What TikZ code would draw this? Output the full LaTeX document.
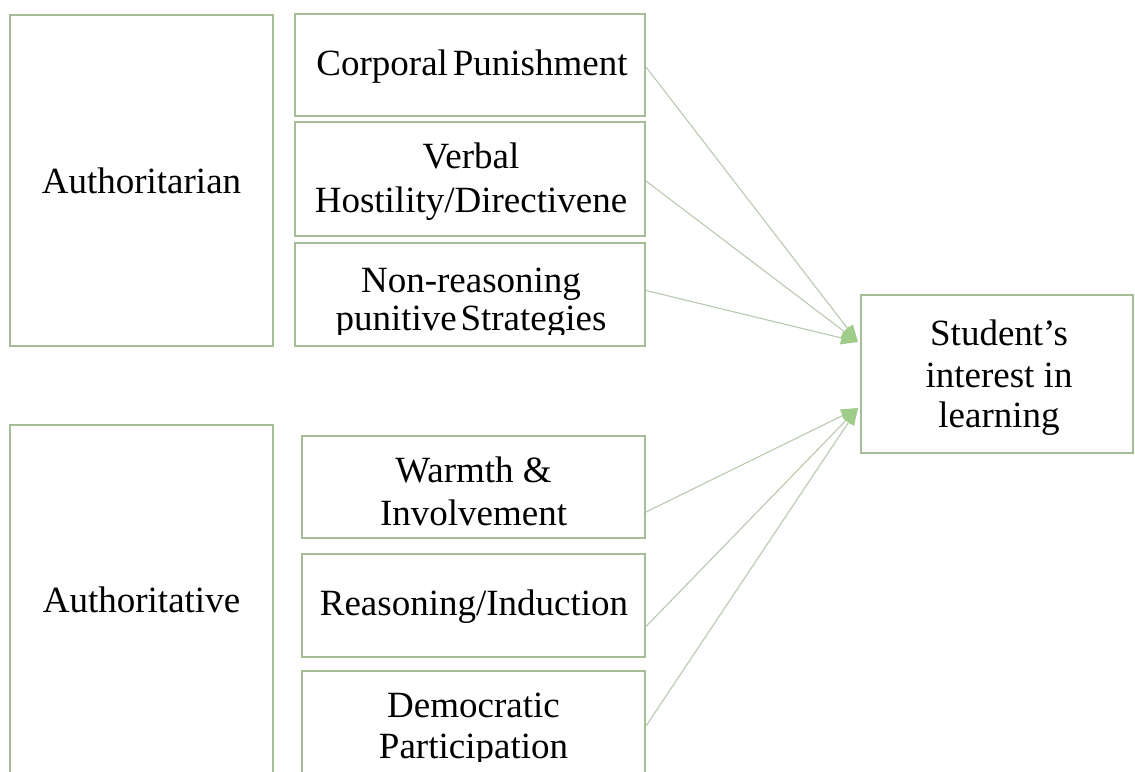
\documentclass[tikz,border=0pt]{standalone}
\usepackage{fontspec}
\setmainfont{Liberation Serif}
\usetikzlibrary{arrows.meta,calc}
\definecolor{boxgreen}{RGB}{165,189,150}
\definecolor{linegreen}{RGB}{186,202,176}
\definecolor{tipgreen}{RGB}{160,204,138}
\tikzset{
  framebox/.style={draw=boxgreen, line width=2pt, fill=white, inner sep=0pt, rectangle},
  lbl/.style={anchor=base, inner sep=0pt, text=black},
  conn/.style={draw=linegreen, line width=1.1pt, -{Triangle[length=17pt,width=13pt,color=tipgreen]}}
}
\begin{document}
\begin{tikzpicture}[x=1pt, y=-1pt, font=\fontsize{37}{42}\selectfont]
\clip (0,0) rectangle (1135,771);
\fill[white] (0,0) rectangle (1135,771);

% boxes
\node[framebox, minimum width=263, minimum height=331] (aria) at (141.5,180.5) {};
\node[framebox, minimum width=350, minimum height=102] (cp) at (470,65) {};
\node[framebox, minimum width=350, minimum height=114] (vh) at (470,179) {};
\node[framebox, minimum width=350, minimum height=103] (nr) at (470,294.5) {};
\node[framebox, minimum width=263, minimum height=365] (aive) at (141.5,607.5) {};
\node[framebox, minimum width=343, minimum height=102] (wi) at (473.5,487) {};
\node[framebox, minimum width=343, minimum height=103] (ri) at (473.5,605.5) {};
\node[framebox, minimum width=343, minimum height=119] (dp) at (473.5,730.5) {};
\node[framebox, minimum width=272, minimum height=158] (stu) at (997,374) {};

% labels
\node[lbl] (t-aria) at (141.5,193) {Authoritarian};
\node[lbl] (t-cp) at (472,75) {Corporal\hspace{-0.12em} Punishment};
\node[lbl] (t-vh1) at (471,168) {Verbal};
\node[lbl] (t-vh2) at (471,212) {Hostility/Directivene};
\begin{scope}
  \clip ($(nr.north west)+(2,2)$) rectangle ($(nr.south east)+(-2,-13)$);
  \node[lbl] (t-nr1) at (471,292) {Non-reasoning};
  \node[lbl] (t-nr2) at (471,330) {punitive\hspace{-0.15em} Strategies};
\end{scope}
\node[lbl] (t-aive) at (141.5,612) {Authoritative};
\node[lbl] (t-wi1) at (473.5,482) {Warmth \&};
\node[lbl] (t-wi2) at (473.5,525) {Involvement};
\node[lbl] (t-ri) at (474,615) {Reasoning/Induction};
\begin{scope}
  \clip ($(dp.north west)+(2,2)$) rectangle (643,761);
  \node[lbl] (t-dp1) at (473.5,717) {Democratic};
  \node[lbl] (t-dp2) at (473.5,758) {Participation};
\end{scope}
\node[lbl] (t-stu1) at (999,345) {Student’s};
\node[lbl] (t-stu2) at (999,387) {interest in};
\node[lbl] (t-stu3) at (999,427) {learning};

% connectors
\coordinate (inA) at ($(stu.west)+(-2,-32)$);
\coordinate (inB) at ($(stu.west)+(-2,34)$);
\draw[conn] ($(cp.east)+(0,2)$) -- (inA);
\draw[conn] ($(vh.east)+(0,2)$) -- (inA);
\draw[conn] ($(nr.east)+(0,-4)$) -- (inA);
\draw[conn] ($(wi.east)+(0,25)$) -- (inB);
\draw[conn] ($(ri.east)+(0,21)$) -- (inB);
\draw[conn] ($(dp.north east)+(0,56)$) -- (inB);
\end{tikzpicture}
\end{document}
